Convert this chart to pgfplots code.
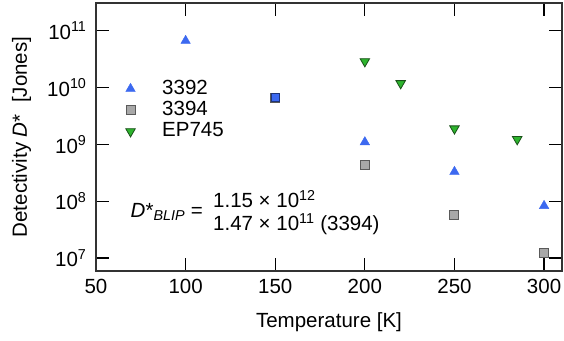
\documentclass[border=0pt]{standalone}
\usepackage{pgfplots}
\pgfplotsset{compat=1.18}
\usepackage{fontspec}
\setmainfont{Liberation Sans}
\definecolor{cblue}{RGB}{60,105,240}
\definecolor{cgrayf}{RGB}{168,168,168}
\definecolor{cgraye}{RGB}{90,90,90}
\definecolor{cgreen}{RGB}{45,180,45}
\definecolor{cgreene}{RGB}{25,80,25}
\pgfplotsset{mylegend/.style={legend image code/.code={\path (0cm,0cm) (1.336cm,0cm); \draw[mark repeat=2,mark phase=2,##1] plot coordinates {(0cm,0cm) (0.3cm,0cm) (1.336cm,0cm)};}}}
\begin{document}
\fontsize{20.5}{24}\selectfont
\begin{tikzpicture}
\begin{axis}[
  scale only axis,
  width=466pt, height=268pt,
  ymode=log,
  xmin=50, xmax=310,
  ymin=5.9e6, ymax=3.1e11,
  xtick={50,100,150,200,250,300},
  ytick={1e7,1e8,1e9,1e10,1e11},
  yticklabels={10\textsuperscript{7},10\textsuperscript{8},10\textsuperscript{9},10\textsuperscript{10},10\textsuperscript{11}},
  minor tick num=0,
  yminorticks=false,
  tick align=inside,
  major tick length=13pt,
  tick style={black, line width=1.2pt},
  axis line style={line width=1.2pt, black!80},
  /pgf/number format/assume math mode=true,
  tick label style={font=\fontsize{20.5}{24}\selectfont},
  xlabel={Temperature [K]},
  ylabel={Detectivity \textit{D}* \ [Jones]},
  every axis x label/.style={at={(rel axis cs:0.5,0)}, anchor=center, yshift=-51pt, font=\fontsize{20.5}{24}\selectfont},
  every axis y label/.style={at={(rel axis cs:0,0.5)}, anchor=center, rotate=90, yshift=74.5pt, font=\fontsize{20.5}{24}\selectfont},
  xticklabel style={yshift=-1pt},
  yticklabel style={xshift=-2.5pt},
  legend style={draw=none, fill=none, at={(rel axis cs:0.0485,0.728)}, anchor=north west, font=\fontsize{20.5}{24}\selectfont, row sep=0pt},
  legend cell align=left,
  clip=false,
]
\addplot[only marks, mylegend, mark=triangle*, mark size=5.5pt, color=cblue, mark options={fill=cblue, draw=cblue}]
  coordinates {(100,6.7e10) (200,1.1e9) (250,3.3e8) (300,8.3e7)};
\addlegendentry{3392}
\addplot[only marks, mylegend, mark=square*, mark size=4.5pt, mark options={fill=cgrayf, draw=cgraye, line width=1pt}]
  coordinates {(150,6.6e9) (200,4.3e8) (250,5.7e7) (300,1.2e7)};
\addlegendentry{3394}
\addplot[only marks, mylegend, mark=triangle*, mark size=5.5pt, mark options={rotate=180, fill=cgreen, draw=cgreene, line width=0.8pt}]
  coordinates {(200,2.9e10) (220,1.19e10) (250,1.9e9) (285,1.23e9)};
\addlegendentry{EP745}
\addplot[only marks, mark=square*, mark size=4pt, mark options={fill=cblue, draw=cblue!50!black, line width=1pt}, forget plot]
  coordinates {(150,6.6e9)};
\node[anchor=east, inner sep=0pt] at (rel axis cs:0.2296,0.220) {\textit{D}*\textsubscript{\textit{BLIP}} =};
\node[anchor=west, inner sep=0pt] at (rel axis cs:0.251,0.269) {1.15 × 10\textsuperscript{12}};
\node[anchor=west, inner sep=0pt] at (rel axis cs:0.251,0.175) {1.47 × 10\textsuperscript{11} (3394)};
\coordinate (bl) at (rel axis cs:0,0);
\coordinate (tr) at (rel axis cs:1,1);
\end{axis}
\path (bl) ++(-96pt,-69pt) coordinate (A);
\path (tr) ++(2pt,3pt) coordinate (B);
\pgfresetboundingbox
\path[use as bounding box] (A) rectangle (B);
\end{tikzpicture}
\end{document}
